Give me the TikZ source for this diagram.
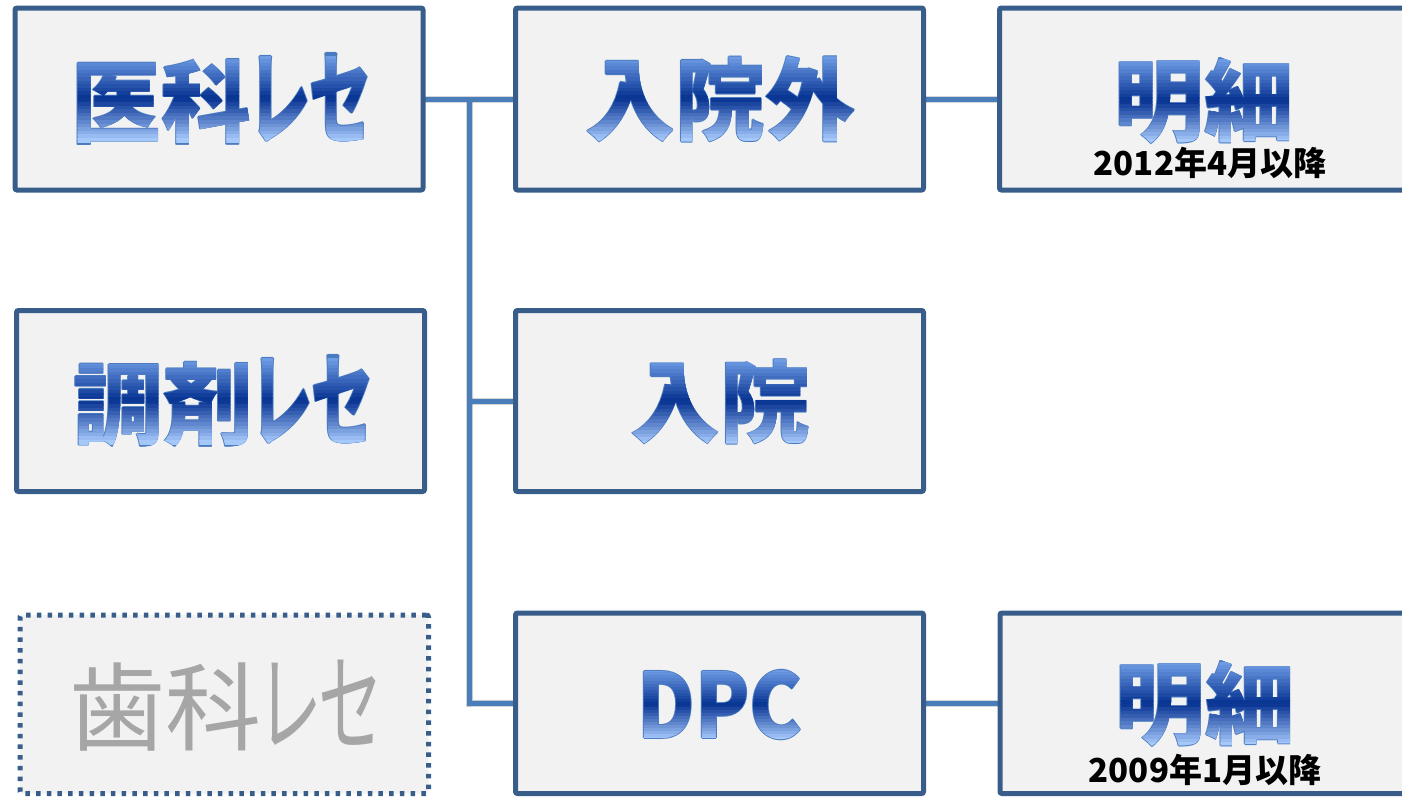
\documentclass[tikz,border=0pt]{standalone}
\usepackage{fontspec}
\newfontfamily\jp{Noto Sans CJK JP}[RawFeature=+palt]
\newfontfamily\jpk{Noto Sans CJK JP}[RawFeature=+palt, FakeStretch=0.6]
\newfontfamily\jpl{Noto Sans CJK JP}[FakeStretch=0.88]
\newfontfamily\jpn{Noto Sans CJK JP}
\definecolor{bord}{HTML}{385D8A}
\definecolor{conncol}{HTML}{4A7EBB}
\definecolor{boxfill}{HTML}{F2F2F2}
\definecolor{gtop}{RGB}{115,160,232}
\definecolor{gmid}{RGB}{6,50,145}
\definecolor{gbot}{RGB}{172,206,255}
\definecolor{outc}{HTML}{4A7BC0}
\definecolor{grayt}{HTML}{A6A6A6}
\newcommand\bigfont{\jp\bfseries\fontsize{90}{90}\selectfont}
\newcommand\smallfont{\jpn\bfseries\fontsize{33}{33}\selectfont}
\newcommand\katab[1]{{\jpk\fontsize{104}{90}\selectfont #1}}
\newcommand\katag[1]{{\jpk\fontsize{108}{96}\selectfont #1}}
\newcommand\lat{\jpl}
\pgfdeclarelayer{bg}
\pgfsetlayers{bg,main}

% gradient text: #1 name, #2 x, #3 y, #4 half height, #5 text
\newcommand\gtext[5]{%
  \foreach \dx/\dy [count=\k] in {0.8/0,-0.8/0,0/0.8,0/-0.8}
    \node[txtol, xshift=\dx pt, yshift=\dy pt] (#1-o\k) at (#2,#3) {#5};
  \foreach \i in {0,...,23}{%
    \pgfmathsetmacro\ya{#3-#4+\i*#4/12}%
    \pgfmathsetmacro\yb{\ya+#4/12+0.6}%
    \ifnum\i<12
      \pgfmathtruncatemacro\p{round((\i+0.5)/24*200)}%
      \def\col{gmid!\p!gtop}%
    \else
      \pgfmathtruncatemacro\p{round(((\i+0.5)/24-0.5)*200)}%
      \def\col{gbot!\p!gmid}%
    \fi
    \begin{scope}
      \clip (#2-260,\ya) rectangle (#2+260,\yb);
      \node[txtband, text=\col] (#1-b\i) at (#2,#3) {#5};
    \end{scope}
  }%
}

\begin{document}
\begin{tikzpicture}[x=1pt,y=-1pt,
  box/.style={draw=bord, line width=5pt, fill=boxfill, rounded corners=2pt,
    minimum width=408pt, minimum height=182pt, inner sep=0pt, outer sep=0pt},
  dotbox/.style={box, dash pattern=on 4.5pt off 6.2pt},
  conn/.style={draw=conncol, line width=5pt},
  connshadow/.style={draw=black, opacity=0.16, line width=7pt},
  txtol/.style={font=\bigfont, text=outc, inner sep=0pt},
  txtband/.style={font=\bigfont, inner sep=0pt},
  graytxt/.style={font=\jp\fontsize{96}{96}\selectfont, text=grayt, inner sep=0pt},
  smalltxt/.style={font=\smallfont, text=black, inner sep=0pt}]
\useasboundingbox (0,0) rectangle (1402,796);

% boxes
\node[box] (A) at (219,99) {};
\node[box] (B) at (719.5,99) {};
\node[box] (C) at (1203.5,99) {};
\node[box, minimum height=181pt] (D) at (220.5,401) {};
\node[box, minimum height=181pt] (E) at (719.5,401) {};
\node[dotbox, minimum width=408.5pt, minimum height=178.5pt] (F) at (224.25,704.25) {};
\node[box, minimum height=180.5pt] (G) at (719.5,703.25) {};
\node[box, minimum height=180.5pt] (H) at (1204,703.25) {};

% connectors
\coordinate (J) at (469.5,99);
\coordinate (Jb) at (469.5,703.5);
\begin{pgfonlayer}{bg}
  \begin{scope}[xshift=1.5pt, yshift=-2.5pt]
    \draw[connshadow] (A.east) -- (B.west);
    \draw[connshadow] (J) -- (Jb) -- (G.west);
    \draw[connshadow] (J |- E.west) -- (E.west);
    \draw[connshadow] (B.east) -- (C.west);
    \draw[connshadow] (G.east) -- (H.west);
  \end{scope}
  \draw[conn] (A.east) -- (B.west);
  \draw[conn] (J) -- (Jb) -- (G.west);
  \draw[conn] (J |- E.west) -- (E.west);
  \draw[conn] (B.east) -- (C.west);
  \draw[conn] (G.east) -- (H.west);
\end{pgfonlayer}

% texts
\gtext{tIka}{220}{99}{43}{医科\katab{レセ}}
\gtext{tChozai}{222}{401}{43}{調剤\katab{レセ}}
\gtext{tGairai}{720}{99}{43}{入院外}
\gtext{tNyuin}{720}{402}{43}{入院}
\gtext{tDpc}{720}{705}{35}{{\lat DPC}}
\gtext{tMei1}{1204}{101}{42}{明細}
\gtext{tMei2}{1205}{704}{42}{明細}
\node[graytxt] (tShika) at (225,706) {歯科\katag{レセ}};
\node[smalltxt] (s1) at (1210,163) {2012年4月以降};
\node[smalltxt] (s2) at (1205,770) {2009年1月以降};
\end{tikzpicture}
\end{document}
